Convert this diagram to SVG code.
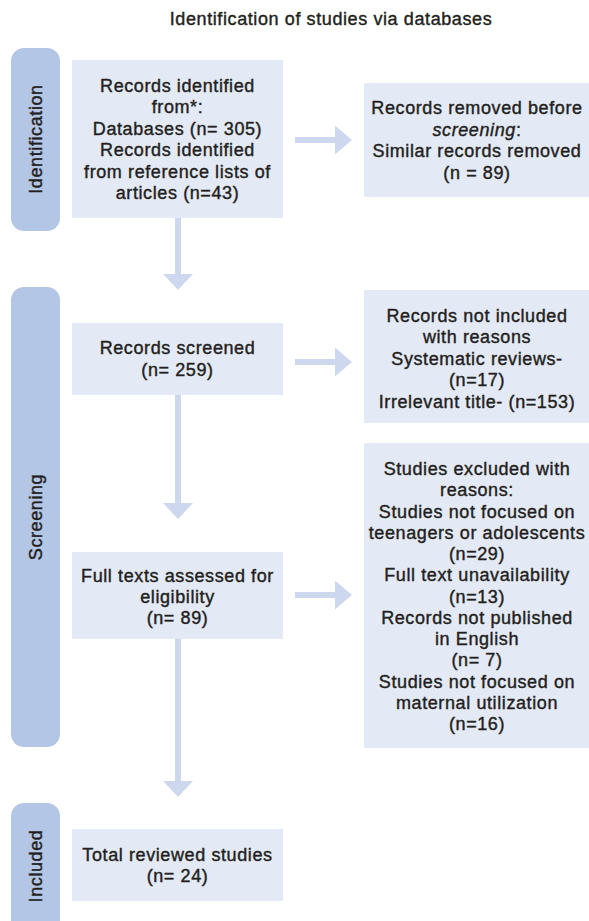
<svg xmlns="http://www.w3.org/2000/svg" width="589" height="921" viewBox="0 0 589 921">
<defs>
<style>
.bar{fill:#b4c6e6}
.box{fill:#e3e9f5}
.t{font-family:"Liberation Sans",Arial,Helvetica,sans-serif;font-size:18px;fill:#231f20;stroke:#231f20;stroke-width:0.4px;text-anchor:middle;letter-spacing:0.6px}
.ln{stroke:#cdd8ee;stroke-width:6;fill:none}
.hd{fill:#cdd8ee}
</style>
</defs>
<rect width="589" height="921" fill="#ffffff"/>
<text class="t" x="331" y="25">Identification of studies via databases</text>

<g id="phase-identification">
<rect class="bar" x="11" y="48" width="49" height="183" rx="13"/>
<text class="t" transform="translate(42,139) rotate(-90)">Identification</text>
</g>
<g id="phase-screening">
<rect class="bar" x="11" y="287" width="49" height="460" rx="13"/>
<text class="t" transform="translate(42,517) rotate(-90)">Screening</text>
</g>
<g id="phase-included">
<rect class="bar" x="11" y="803" width="49" height="130" rx="13"/>
<text class="t" transform="translate(42,866) rotate(-90)">Included</text>
</g>

<g id="connectors">
<line class="ln" x1="178" y1="218" x2="178" y2="276"/>
<polygon class="hd" points="163,274 193,274 178,290"/>
<line class="ln" x1="178" y1="395" x2="178" y2="505"/>
<polygon class="hd" points="163,503 193,503 178,519"/>
<line class="ln" x1="178" y1="639" x2="178" y2="783"/>
<polygon class="hd" points="163,781 193,781 178,797"/>
<line class="ln" x1="295" y1="140" x2="337" y2="140"/>
<polygon class="hd" points="335,125.5 335,154.5 352,140"/>
<line class="ln" x1="295" y1="362" x2="337" y2="362"/>
<polygon class="hd" points="335,347.5 335,376.5 352,362"/>
<line class="ln" x1="295" y1="595" x2="337" y2="595"/>
<polygon class="hd" points="335,580.5 335,609.5 352,595"/>
</g>

<g id="records-identified">
<rect class="box" x="72" y="60" width="211" height="158"/>
<text class="t" x="177.5" y="92">Records identified</text>
<text class="t" x="177.5" y="113.4">from*:</text>
<text class="t" x="177.5" y="134.8">Databases (n= 305)</text>
<text class="t" x="177.5" y="156.2">Records identified</text>
<text class="t" x="177.5" y="177.6">from reference lists of</text>
<text class="t" x="177.5" y="199">articles (n=43)</text>
</g>

<g id="records-removed">
<rect class="box" x="364" y="83" width="225" height="114"/>
<text class="t" x="477" y="114">Records removed before</text>
<text class="t" x="477" y="135.5"><tspan font-style="italic">screening</tspan>:</text>
<text class="t" x="477" y="157">Similar records removed</text>
<text class="t" x="477" y="178.5">(n = 89)</text>
</g>

<g id="records-screened">
<rect class="box" x="72" y="323" width="211" height="72"/>
<text class="t" x="177.5" y="354">Records screened</text>
<text class="t" x="177.5" y="375.5">(n= 259)</text>
</g>

<g id="records-not-included">
<rect class="box" x="364" y="290" width="225" height="133"/>
<text class="t" x="477" y="321.7">Records not included</text>
<text class="t" x="477" y="343.2">with reasons</text>
<text class="t" x="477" y="364.7">Systematic reviews-</text>
<text class="t" x="477" y="386.2">(n=17)</text>
<text class="t" x="477" y="407.7">Irrelevant title- (n=153)</text>
</g>

<g id="full-texts">
<rect class="box" x="72" y="552" width="211" height="87"/>
<text class="t" x="177.5" y="582">Full texts assessed for</text>
<text class="t" x="177.5" y="603">eligibility</text>
<text class="t" x="177.5" y="624">(n= 89)</text>
</g>

<g id="studies-excluded">
<rect class="box" x="364" y="443" width="225" height="305"/>
<text class="t" x="477" y="475">Studies excluded with</text>
<text class="t" x="477" y="496.25">reasons:</text>
<text class="t" x="477" y="517.5">Studies not focused on</text>
<text class="t" x="477" y="538.75">teenagers or adolescents</text>
<text class="t" x="477" y="560">(n=29)</text>
<text class="t" x="477" y="581.25">Full text unavailability</text>
<text class="t" x="477" y="602.5">(n=13)</text>
<text class="t" x="477" y="623.75">Records not published</text>
<text class="t" x="477" y="645">in English</text>
<text class="t" x="477" y="666.25">(n= 7)</text>
<text class="t" x="477" y="687.5">Studies not focused on</text>
<text class="t" x="477" y="708.75">maternal utilization</text>
<text class="t" x="477" y="730">(n=16)</text>
</g>

<g id="total-reviewed">
<rect class="box" x="72" y="829" width="211" height="72"/>
<text class="t" x="177.5" y="861">Total reviewed studies</text>
<text class="t" x="177.5" y="882">(n= 24)</text>
</g>
</svg>
